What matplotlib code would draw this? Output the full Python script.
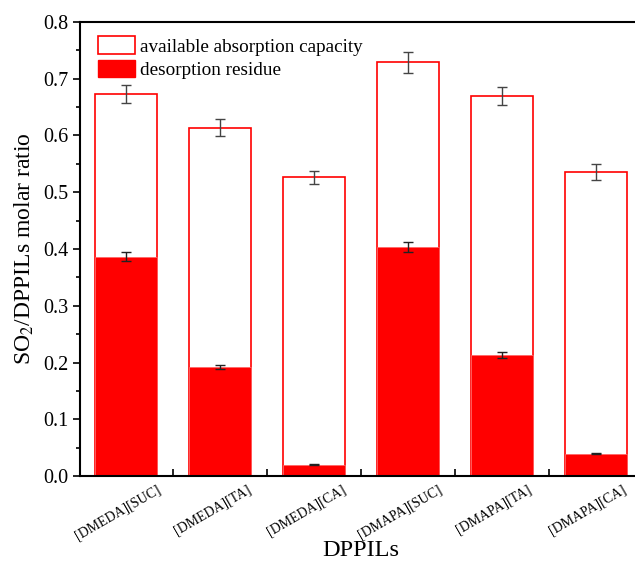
import matplotlib.pyplot as plt
from matplotlib.ticker import MultipleLocator, FixedLocator
from matplotlib.patches import Patch
from matplotlib.transforms import ScaledTranslation
import numpy as np

plt.rcParams['font.family'] = ['Liberation Serif', 'DejaVu Serif']
plt.rcParams['mathtext.fontset'] = 'stix'

labels = ['[DMEDA][SUC]', '[DMEDA][TA]', '[DMEDA][CA]',
          '[DMAPA][SUC]', '[DMAPA][TA]', '[DMAPA][CA]']
capacity = [0.673, 0.614, 0.526, 0.729, 0.669, 0.536]
capacity_err = [0.016, 0.015, 0.012, 0.018, 0.016, 0.014]
residue = [0.386, 0.192, 0.020, 0.404, 0.213, 0.039]
residue_err = [0.008, 0.004, 0.001, 0.009, 0.005, 0.001]

x = np.arange(len(labels))

fig = plt.figure(figsize=(6.35, 5.62), dpi=100)
ax = fig.add_axes([80 / 635, 1 - 476 / 562, 562 / 635, 454 / 562])

ax.bar(x, capacity, width=0.66, color='white', edgecolor='red', linewidth=1.2,
       yerr=capacity_err, error_kw=dict(ecolor='#444444', elinewidth=1, capsize=3.5, capthick=1))
ax.bar(x, residue, width=0.66, color='red', edgecolor='#ff6666', linewidth=0.6,
       yerr=residue_err, error_kw=dict(ecolor='#222222', elinewidth=1, capsize=3.5, capthick=1))

ax.set_xlim(-0.49, 5.49)
ax.set_ylim(0, 0.8)
ax.yaxis.set_major_locator(MultipleLocator(0.1))
ax.yaxis.set_minor_locator(MultipleLocator(0.05))
ax.tick_params(axis='y', which='major', direction='out', length=5, width=1.2, labelsize=14.5)
ax.tick_params(axis='y', which='minor', direction='out', length=3, width=1.2)

ax.set_xticks(x)
ax.set_xticklabels(labels, rotation=30, ha='center', fontsize=10)
ax.tick_params(axis='x', which='major', length=0, pad=5)
shift = ScaledTranslation(-8 / 100, 0, fig.dpi_scale_trans)
for t in ax.get_xticklabels():
    t.set_transform(t.get_transform() + shift)
ax.xaxis.set_minor_locator(FixedLocator(x[:-1] + 0.5))
ax.tick_params(axis='x', which='minor', direction='in', length=5, width=1.2)

for s in ax.spines.values():
    s.set_linewidth(1.5)
ax.spines['right'].set_visible(False)

ax.set_ylabel('SO$_2$/DPPILs molar ratio', fontsize=17)
ax.yaxis.set_label_coords(-0.079, 0.5)
ax.set_xlabel('DPPILs', fontsize=17.5)
ax.xaxis.set_label_coords(0.5, -0.14)

handles = [Patch(facecolor='white', edgecolor='red', linewidth=1.2),
           Patch(facecolor='red', edgecolor='red')]
ax.legend(handles, ['available absorption capacity', 'desorption residue'],
          loc='upper left', bbox_to_anchor=(0.006, 1.0), frameon=False,
          fontsize=13.8, handlelength=1.95, handleheight=1.0, handletextpad=0.25,
          borderaxespad=0.35, labelspacing=0.25)

fig.savefig('out.png', dpi=100)
